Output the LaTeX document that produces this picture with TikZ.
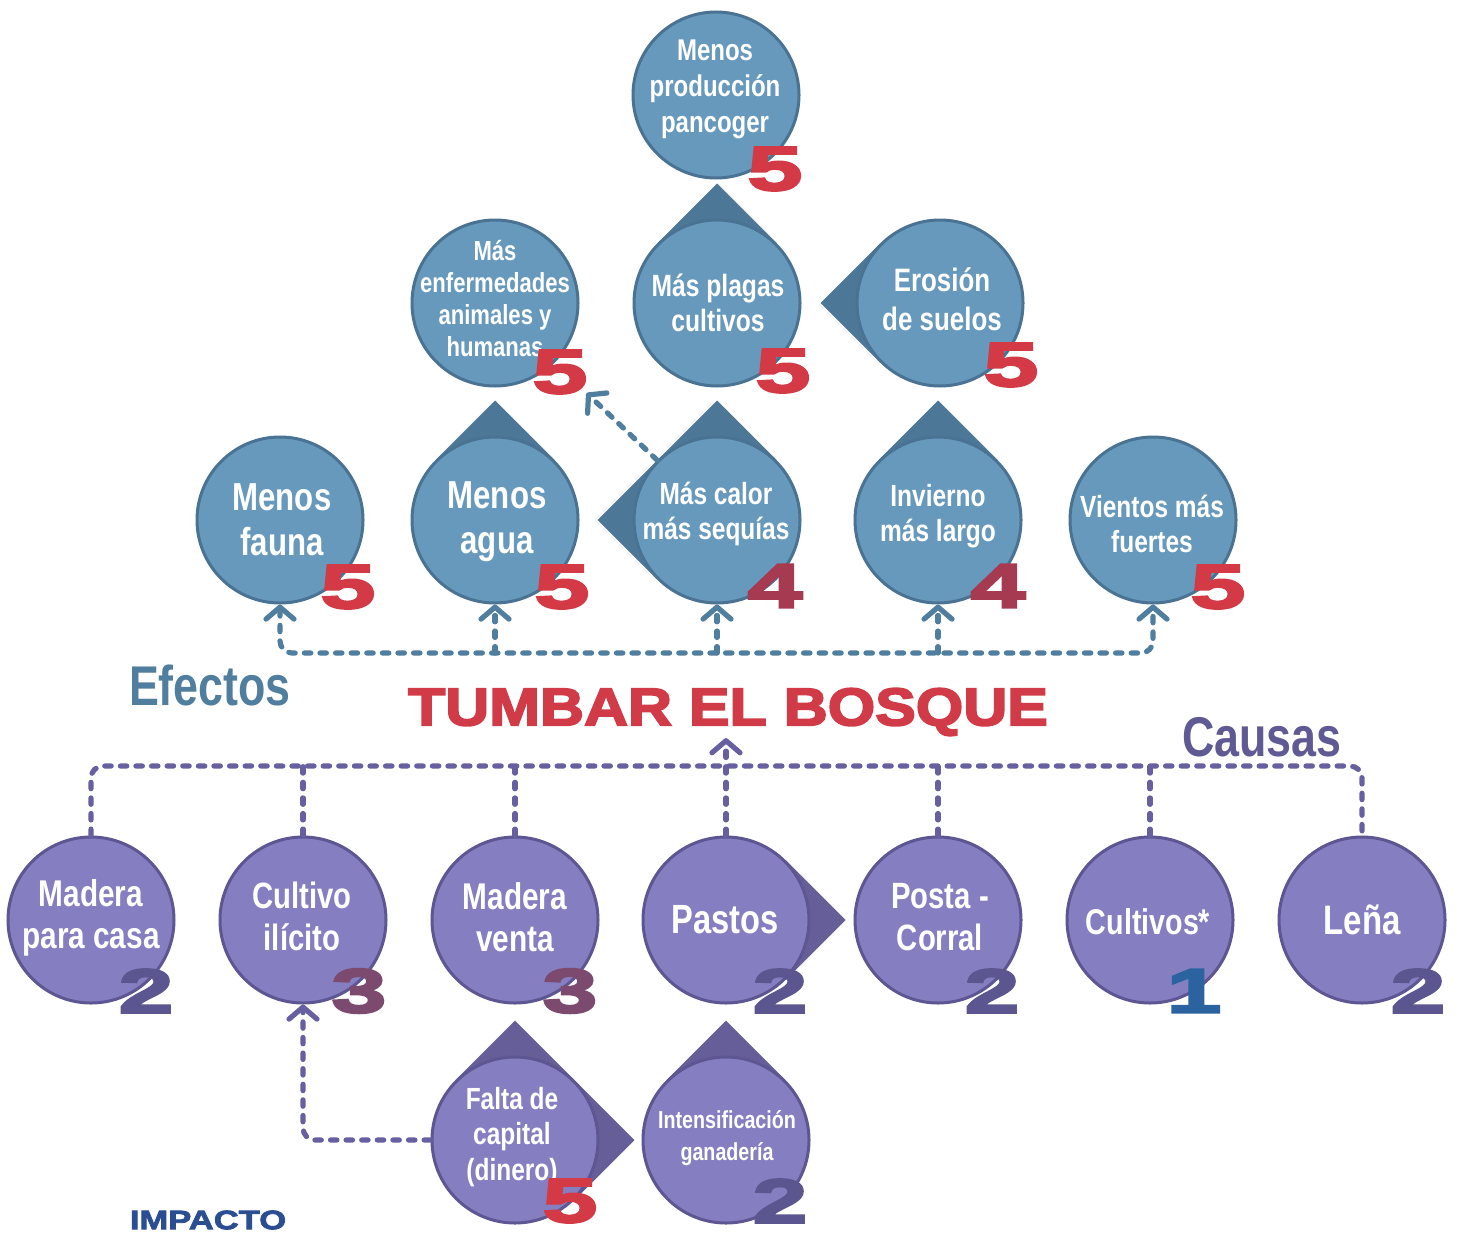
\documentclass[tikz,border=0pt]{standalone}
\usepackage{fontspec}
\setmainfont{Liberation Sans}
\newfontfamily\condfont[FakeStretch=0.8]{Liberation Sans}
\newfontfamily\titlefont[FakeStretch=1.15,FakeBold=3.5]{Liberation Sans}
\newfontfamily\digitfont[FakeStretch=1.6,FakeBold=4]{Liberation Sans}
\newfontfamily\impfont[FakeStretch=1.3,FakeBold=3]{Liberation Sans}
\usetikzlibrary{arrows.meta,calc,backgrounds}

\newcommand\setfs[2]{\fontsize{#1}{#2}\selectfont}

\definecolor{bfill}{HTML}{6799BC}
\definecolor{bdark}{HTML}{4D7797}
\definecolor{bline}{HTML}{4A7393}
\definecolor{pfill}{HTML}{857FC1}
\definecolor{pdark}{HTML}{655E98}
\definecolor{pline}{HTML}{5D5692}
\definecolor{nred}{HTML}{D43A45}
\definecolor{nmaroon}{HTML}{A53A50}
\definecolor{npurple}{HTML}{5B5590}
\definecolor{nplum}{HTML}{7C4A6E}
\definecolor{nblue}{HTML}{2B62A0}
\definecolor{effc}{HTML}{4F7E9E}
\definecolor{causc}{HTML}{6660A0}
\definecolor{titlec}{HTML}{D13B47}
\definecolor{causasc}{HTML}{5F5994}
\definecolor{impc}{HTML}{2B4D92}

% pointed corner behind a bubble: node, direction, colour
\newcommand\Corner[3]{%
  \fill[#3] (#1.center) -- ($(#1.center)+({#2-45}:84.5)$) -- ($(#1.center)+(#2:119.5)$)
    -- ($(#1.center)+({#2+45}:84.5)$) -- cycle;}

\tikzset{
  bubble/.style={circle, minimum size=83pt, inner sep=0pt, line width=1.5pt},
  effect/.style={bubble, fill=bfill, draw=bline},
  cause/.style={bubble, fill=pfill, draw=pline},
  btext/.style 2 args={text=white, align=center, inner sep=0pt,
    font=\condfont\bfseries\setfs{#1}{#2}},
  digit/.style={inner sep=0pt, font=\digitfont\bfseries\setfs{31}{32}},
  bar/.style={line width=2.6pt, line cap=round, dash pattern=on 3.2pt off 4.6pt},
  effbar/.style={bar, draw=effc},
  causebar/.style={bar, draw=causc},
}

\begin{document}
\begin{tikzpicture}[x=0.5pt, y=0.5pt, >={Straight Barb[length=6pt,width=14pt,round]}]
\useasboundingbox (0,0) rectangle (1459,-1236);

% ---------- effects ----------
\node[effect] (pancoger) at (716,-95) {};
\node[effect] (enferm)   at (495,-303) {};
\node[effect] (plagas)   at (717,-303) {};
\node[effect] (erosion)  at (940,-303) {};
\node[effect] (fauna)    at (280,-520) {};
\node[effect] (agua)     at (495,-520) {};
\node[effect] (calor)    at (717,-520) {};
\node[effect] (invierno) at (938,-520) {};
\node[effect] (vientos)  at (1153,-520) {};

% ---------- causes ----------
\node[cause] (madcasa)  at (91,-920) {};
\node[cause] (cultivo)  at (303,-920) {};
\node[cause] (madventa) at (515,-920) {};
\node[cause] (pastos)   at (726,-920) {};
\node[cause] (posta)    at (938,-920) {};
\node[cause] (cultivos) at (1150,-920) {};
\node[cause] (lena)     at (1362,-920) {};
\node[cause] (falta)    at (515,-1140) {};
\node[cause] (intens)   at (726,-1140) {};

% white page and pointed corners, behind the bubbles
\begin{scope}[on background layer]
  \fill[white] (0,0) rectangle (1459,-1236);
  \Corner{plagas}{90}{bdark}
  \Corner{erosion}{180}{bdark}
  \Corner{agua}{90}{bdark}
  \Corner{calor}{90}{bdark}
  \Corner{calor}{180}{bdark}
  \Corner{invierno}{90}{bdark}
  \Corner{pastos}{0}{pdark}
  \Corner{falta}{90}{pdark}
  \Corner{falta}{0}{pdark}
  \Corner{intens}{90}{pdark}
\end{scope}

% bubble texts
\node[btext={15}{18}]     (pancoger-t) at (715,-89)  {Menos\\producción\\pancoger};
\node[btext={13.8}{16}]   (enferm-t)   at (495,-299) {Más\\enfermedades\\animales y\\humanas};
\node[btext={15.4}{17.5}] (plagas-t)   at (718,-303) {Más plagas\\cultivos};
\node[btext={16.2}{19.5}] (erosion-t)  at (942,-299) {Erosión\\de suelos};
\node[btext={19.5}{22.5}] (fauna-t)    at (282,-520) {Menos\\fauna};
\node[btext={19.5}{22.5}] (agua-t)     at (497,-522) {Menos\\agua};
\node[btext={15.3}{17.5}] (calor-t)    at (716,-514) {Más calor\\más sequías};
\node[btext={15.3}{17.5}] (invierno-t) at (938,-516) {Invierno\\más largo};
\node[btext={15.3}{17.5}] (vientos-t)  at (1152,-524) {Vientos más\\fuertes};

\node[btext={18.6}{21}]   (madcasa-t)  at (91,-918)  {Madera\\para casa};
\node[btext={18.3}{21}]   (cultivo-t)  at (302,-916) {Cultivo\\ilícito};
\node[btext={18.6}{21}]   (madventa-t) at (515,-917) {Madera\\venta};
\node[btext={20.4}{22}]   (pastos-t)   at (725,-920) {Pastos};
\node[btext={18.3}{21}]   (posta-t)    at (940,-917) {Posta -\\Corral};
\node[btext={17.9}{20}]   (cultivos-t) at (1148,-922) {Cultivos*};
\node[btext={20.6}{22}]   (lena-t)     at (1362,-920) {Leña};
\node[btext={15.3}{17.7}] (falta-t)    at (512,-1137) {Falta de\\capital\\(dinero)};
\node[btext={12.3}{15.8}] (intens-t)   at (727,-1138) {Intensificación\\ganadería};

% impact numbers
\node[digit, text=nred]    (pancoger-n) at (775,-169) {5};
\node[digit, text=nred]    (enferm-n)   at (560,-372) {5};
\node[digit, text=nred]    (plagas-n)   at (783,-371) {5};
\node[digit, text=nred]    (erosion-n)  at (1011,-365) {5};
\node[digit, text=nred]    (fauna-n)    at (348,-587) {5};
\node[digit, text=nred]    (agua-n)     at (562,-587) {5};
\node[digit, text=nmaroon] (calor-n)    at (775,-586) {4};
\node[digit, text=nmaroon] (invierno-n) at (998,-586) {4};
\node[digit, text=nred]    (vientos-n)  at (1218,-587) {5};
\node[digit, text=npurple] (madcasa-n)  at (146,-991) {2};
\node[digit, text=nplum]   (cultivo-n)  at (359,-991) {3};
\node[digit, text=nplum]   (madventa-n) at (570,-991) {3};
\node[digit, text=npurple] (pastos-n)   at (780,-991) {2};
\node[digit, text=npurple] (posta-n)    at (992,-991) {2};
\node[digit, text=nblue]   (cultivos-n) at (1194,-991) {1};
\node[digit, text=npurple] (lena-n)     at (1418,-991) {2};
\node[digit, text=nred]    (falta-n)    at (570,-1201) {5};
\node[digit, text=npurple] (intens-n)   at (780,-1201) {2};

% labels
\node[font=\condfont\bfseries\setfs{28}{30}, text=effc]   (efectos) at (210,-685) {Efectos};
\node[font=\condfont\bfseries\setfs{28}{30}, text=causasc] (causas) at (1262,-737) {Causas};
\node[font=\titlefont\bfseries\setfs{26.5}{28}, text=titlec, inner sep=1pt] (title) at (728,-712) {TUMBAR EL BOSQUE};
\node[font=\impfont\bfseries\setfs{13.3}{14}, text=impc] (impacto) at (208,-1220) {IMPACTO};

% effect connectors
\coordinate (ebl) at (280,-653);
\coordinate (ebr) at (1153,-653);
\draw[effbar, <->, rounded corners=6pt] (fauna.south) -- (ebl) -- (ebr) -- (vientos.south);
\foreach \n in {agua,calor,invierno}
  \draw[effbar, ->] (\n.south |- ebl) -- (\n.south);
\draw[effbar, ->, shorten >=22pt] (calor.north west) -- (enferm.south east);

% cause connectors
\coordinate (cbl) at (91,-766);
\coordinate (cbr) at (1362,-766);
\draw[causebar, rounded corners=6pt] (madcasa.north) -- (cbl) -- (cbr) -- (lena.north);
\foreach \n in {cultivo,madventa,posta,cultivos}
  \draw[causebar] (\n.north) -- (\n.north |- cbl);
\draw[causebar, ->] (pastos.north) -- (pastos.north |- title.south);
\draw[causebar, ->, rounded corners=6pt] (falta.west) -| (cultivo.south);

\end{tikzpicture}
\end{document}
